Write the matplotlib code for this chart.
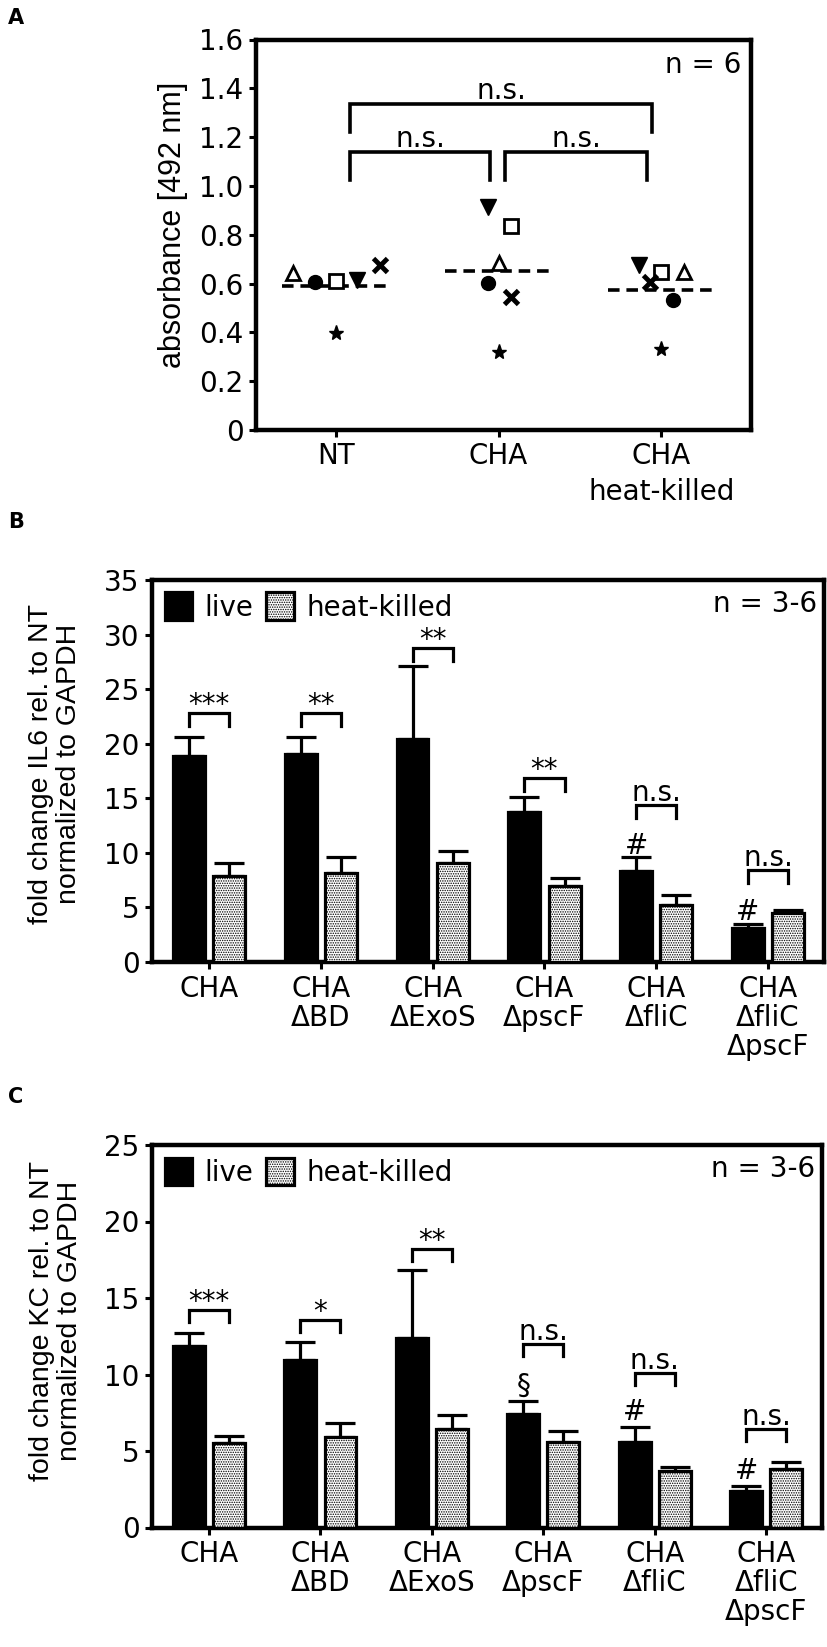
import numpy as np
import matplotlib
matplotlib.use('Agg')
import matplotlib.pyplot as plt
from matplotlib.patches import Patch

# ---------------- data ----------------
# Panel A
a_groups = ['NT', 'CHA', 'CHA\nheat-killed']
a_triangle_up = [0.644, 0.683, 0.648]
a_circle = [0.607, 0.603, 0.532]
a_square = [0.610, 0.835, 0.646]
a_triangle_down = [0.614, 0.914, 0.676]
a_cross = [0.676, 0.546, 0.607]
a_star = [0.396, 0.321, 0.332]
a_sig_pairs = [(0, 1), (1, 2), (0, 2)]
a_sig_y = [1.14, 1.14, 1.337]
a_sig_text = ['n.s.', 'n.s.', 'n.s.']
a_n = 'n = 6'

# Panels B and C
bc_groups = ['CHA', 'CHA\nΔBD', 'CHA\nΔExoS', 'CHA\nΔpscF', 'CHA\nΔfliC', 'CHA\nΔfliC\nΔpscF']
series_names = ['live', 'heat-killed']

b_live = [18.9, 19.1, 20.4, 13.7, 8.3, 3.1]
b_live_err = [1.7, 1.5, 6.7, 1.4, 1.3, 0.4]
b_hk = [7.9, 8.2, 9.05, 6.95, 5.2, 4.45]
b_hk_err = [1.2, 1.45, 1.15, 0.75, 0.9, 0.3]
b_sig = ['***', '**', '**', '**', 'n.s.', 'n.s.']
b_sig_y = [22.8, 22.8, 28.8, 16.9, 14.4, 8.4]
b_marks = ['', '', '', '', '#', '#']

c_live = [11.85, 10.93, 12.4, 7.39, 5.6, 2.39]
c_live_err = [0.85, 1.17, 4.45, 0.91, 1.0, 0.31]
c_hk = [5.5, 5.93, 6.41, 5.6, 3.7, 3.85]
c_hk_err = [0.47, 0.92, 0.94, 0.7, 0.28, 0.45]
c_sig = ['***', '*', '**', 'n.s.', 'n.s.', 'n.s.']
c_sig_y = [14.2, 13.55, 18.2, 12.0, 10.1, 6.45]
c_marks = ['', '', '', '§', '#', '#']
bc_n = 'n = 3-6'

# ---------------- style ----------------
plt.rcParams['font.family'] = ['DejaVu Sans']
plt.rcParams['hatch.linewidth'] = 0.7
FS = 20
SPINE_W = 3.2
LW = 2.3
HATCH = '.......'
YL_FAMILY = ['Liberation Sans', 'DejaVu Sans']

W, H = 828, 1647
fig = plt.figure(figsize=(W / 100, H / 100), dpi=100)


def ax_px(left, right, top, bottom):
    return fig.add_axes([left / W, 1 - bottom / H, (right - left) / W, (bottom - top) / H])


def style_axes(ax):
    for s in ax.spines.values():
        s.set_linewidth(SPINE_W)
    ax.tick_params(axis='both', direction='out', length=5, width=2.2,
                   labelsize=FS, pad=4, top=False, right=False)


# ---------------- Panel A ----------------
axA = ax_px(256, 751, 39.5, 430)
style_axes(axA)
xA = np.arange(len(a_groups))
off_tri_up = [-0.265, 0.0, 0.14]
off_circle = [-0.13, -0.065, 0.07]
off_square = [0.0, 0.075, 0.0]
off_tri_down = [0.13, -0.065, -0.14]
off_cross = [0.27, 0.075, -0.07]
off_star = [0.0, 0.005, 0.0]

axA.plot(xA + off_tri_up, a_triangle_up, ls='none', marker='^', ms=10.5, mfc='white', mec='black', mew=2.0, zorder=4)
axA.plot(xA + off_circle, a_circle, ls='none', marker='o', ms=10, mfc='black', mec='black', zorder=4)
axA.plot(xA + off_square, a_square, ls='none', marker='s', ms=9.5, mfc='white', mec='black', mew=2.0, zorder=4)
axA.plot(xA + off_tri_down, a_triangle_down, ls='none', marker='v', ms=11, mfc='black', mec='black', zorder=4)
axA.plot(xA + off_cross, a_cross, ls='none', marker='x', ms=10, mec='black', mew=3.5, zorder=4)
axA.plot(xA + off_star, a_star, ls='none', marker='*', ms=11, mfc='black', mec='black', zorder=4)

means = [np.mean([a_triangle_up[i], a_circle[i], a_square[i], a_triangle_down[i], a_cross[i], a_star[i]])
         for i in range(len(a_groups))]
for i, m in enumerate(means):
    axA.plot([xA[i] - 0.33, xA[i] + 0.31], [m, m], color='black', lw=2.6, dashes=(3.2, 1.9), zorder=3)

a_leg_x = [(0.09, 0.95), (1.04, 1.91), (0.09, 1.94)]
drop_a = 0.117
for (x0, x1), y, t in zip(a_leg_x, a_sig_y, a_sig_text):
    axA.plot([x0, x0, x1, x1], [y - drop_a, y, y, y - drop_a], color='black', lw=2.6,
             solid_joinstyle='miter', zorder=3)
    axA.text((x0 + x1) / 2, y + 0.02, t, ha='center', va='baseline', fontsize=FS)

axA.text(0.98, 0.935, a_n, transform=axA.transAxes, ha='right', va='center', fontsize=FS)
axA.set_xlim(-0.49, 2.55)
axA.set_ylim(0, 1.6)
axA.set_xticks(xA)
axA.set_xticklabels(a_groups)
for lab in axA.get_xticklabels():
    lab.set_linespacing(1.35)
yt = np.round(np.arange(0, 1.61, 0.2), 1)
axA.set_yticks(yt)
axA.set_yticklabels(['0'] + ['%.1f' % v for v in yt[1:]])
axA.set_ylabel('absorbance [492 nm]', fontsize=22, family=YL_FAMILY, va='center')
axA.yaxis.set_label_coords(-0.168, 0.525)


# ---------------- Panels B, C ----------------
def bar_panel(ax, live, live_err, hk, hk_err, sig, sig_y, marks, ymax, ylabel, mark_off, drop, ylab_y):
    style_axes(ax)
    x = np.arange(len(bc_groups))
    off = 0.18
    bw = 0.285
    ax.errorbar(x - off, live, yerr=[np.zeros(len(live)), live_err], fmt='none', ecolor='black',
                elinewidth=LW, capsize=11, capthick=LW, zorder=2)
    ax.errorbar(x + off, hk, yerr=[np.zeros(len(hk)), hk_err], fmt='none', ecolor='black',
                elinewidth=LW, capsize=11, capthick=LW, zorder=2)
    ax.bar(x - off, live, width=bw, color='black', edgecolor='black', linewidth=LW, zorder=3)
    ax.bar(x + off, hk, width=bw, color='white', edgecolor='black', linewidth=LW, hatch=HATCH, zorder=3)
    for i in range(len(x)):
        y = sig_y[i]
        x0, x1 = x[i] - off, x[i] + off
        ax.plot([x0, x0, x1, x1], [y - drop, y, y, y - drop], color='black', lw=LW,
                solid_joinstyle='miter', zorder=4)
        if sig[i] == 'n.s.':
            ax.annotate(sig[i], (x[i], y), xytext=(0, 3), textcoords='offset points',
                        ha='center', va='baseline', fontsize=FS)
        else:
            ax.annotate(sig[i], (x[i], y), xytext=(0, 0.0), textcoords='offset points',
                        ha='center', va='baseline', fontsize=FS)
        if marks[i]:
            ax.annotate(marks[i], (x[i] - off, live[i] + live_err[i]), xytext=(0, mark_off),
                        textcoords='offset points', ha='center', va='baseline', fontsize=FS)
    ax.set_xlim(-0.51, 5.5)
    ax.set_ylim(0, ymax)
    ax.set_yticks(np.arange(0, ymax + 0.1, 5))
    ax.set_xticks(x)
    ax.set_xticklabels(bc_groups)
    for lab in ax.get_xticklabels():
        lab.set_linespacing(1.05)
    handles = [Patch(facecolor='black', edgecolor='black', linewidth=LW),
               Patch(facecolor='white', edgecolor='black', linewidth=LW, hatch=HATCH)]
    ax.legend(handles, series_names, loc='upper left', ncol=2, frameon=False, fontsize=FS,
              handlelength=1.0, handleheight=1.15, handletextpad=0.45, columnspacing=0.45,
              borderaxespad=0.25, borderpad=0.2)
    ax.text(0.99, 0.937, bc_n, transform=ax.transAxes, ha='right', va='center', fontsize=FS)
    ax.set_ylabel(ylabel, fontsize=20.5, family=YL_FAMILY, va='center', linespacing=1.1)
    ax.yaxis.set_label_coords(-0.144, ylab_y)


axB = ax_px(152, 824, 580, 962)
bar_panel(axB, b_live, b_live_err, b_hk, b_hk_err, b_sig, b_sig_y, b_marks, 35,
          'fold change IL6 rel. to NT\nnormalized to GAPDH', 2.5, 1.2, 0.518)

axC = ax_px(152, 822, 1145, 1527.5)
bar_panel(axC, c_live, c_live_err, c_hk, c_hk_err, c_sig, c_sig_y, c_marks, 25,
          'fold change KC rel. to NT\nnormalized to GAPDH', 5.0, 0.8, 0.54)

# panel letters
fig.text(8 / W, 1 - 8 / H, 'A', fontsize=15, fontweight='bold', ha='left', va='top')
fig.text(8 / W, 1 - 512 / H, 'B', fontsize=15, fontweight='bold', ha='left', va='top')
fig.text(8 / W, 1 - 1087 / H, 'C', fontsize=15, fontweight='bold', ha='left', va='top')

fig.savefig('out.png', dpi=100)
